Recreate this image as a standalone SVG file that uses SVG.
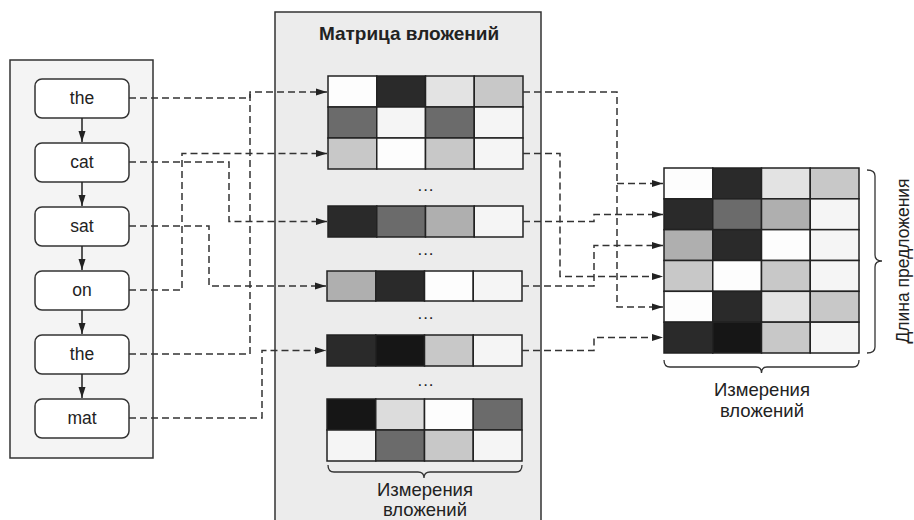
<svg xmlns="http://www.w3.org/2000/svg" width="914" height="520" viewBox="0 0 914 520">
  <defs>
    <marker id="arr" markerWidth="12" markerHeight="8" refX="11" refY="4" orient="auto" markerUnits="userSpaceOnUse">
      <path d="M0,0.5 L11,4 L0,7.5 Z" fill="#222"/>
    </marker>
    <style>
      text { font-family: "Liberation Sans", Arial, sans-serif; fill: #222; }
      .panel { stroke: #333; stroke-width: 1.5; }
      .tok rect { fill: #ffffff; stroke: #333; stroke-width: 1.5; }
      .tok text { font-size: 17.5px; text-anchor: middle; }
      .cell { stroke: #222; stroke-width: 1.5; }
      .link { fill: none; stroke: #333; stroke-width: 1.5; stroke-dasharray: 7 4; }
      .seq { fill: none; stroke: #222; stroke-width: 1.5; }
      .brace { fill: none; stroke: #333; stroke-width: 1.3; }
      .dots { font-size: 17px; text-anchor: middle; letter-spacing: 1px; }
      .lbl { font-size: 18.5px; text-anchor: middle; }
      .w { fill: #fdfdfd; } .w2 { fill: #f5f5f5; } .l1 { fill: #e3e3e3; } .l2 { fill: #dcdcdc; }
      .g1 { fill: #c8c8c8; } .g2 { fill: #afafaf; } .g3 { fill: #6b6b6b; }
      .d1 { fill: #2a2a2a; } .d2 { fill: #161616; }
    </style>
  </defs>

  <!-- panels -->
  <rect id="token-panel" class="panel" x="10" y="60" width="143" height="398" fill="#f4f4f4"/>
  <rect id="embedding-panel" class="panel" x="275" y="12" width="266" height="520" fill="#ececec"/>
  <text x="409" y="40" style="font-size:19px;font-weight:bold;text-anchor:middle">Матрица вложений</text>

  <!-- token sequence -->
  <g id="tok-the1" class="tok"><rect x="35" y="79" width="94" height="39" rx="7"/><text x="82" y="104">the</text></g>
  <g id="tok-cat" class="tok"><rect x="35" y="143" width="94" height="39" rx="7"/><text x="82" y="168">cat</text></g>
  <g id="tok-sat" class="tok"><rect x="35" y="207" width="94" height="39" rx="7"/><text x="82" y="232">sat</text></g>
  <g id="tok-on" class="tok"><rect x="35" y="271" width="94" height="39" rx="7"/><text x="82" y="296">on</text></g>
  <g id="tok-the2" class="tok"><rect x="35" y="335" width="94" height="39" rx="7"/><text x="82" y="360">the</text></g>
  <g id="tok-mat" class="tok"><rect x="35" y="399" width="94" height="39" rx="7"/><text x="82" y="424">mat</text></g>

  <g id="sequence-arrows">
    <line class="seq" x1="82" y1="118" x2="82" y2="142" marker-end="url(#arr)"/>
    <line class="seq" x1="82" y1="182" x2="82" y2="206" marker-end="url(#arr)"/>
    <line class="seq" x1="82" y1="246" x2="82" y2="270" marker-end="url(#arr)"/>
    <line class="seq" x1="82" y1="310" x2="82" y2="334" marker-end="url(#arr)"/>
    <line class="seq" x1="82" y1="374" x2="82" y2="398" marker-end="url(#arr)"/>
  </g>

  <!-- embedding matrix rows -->
  <g id="emb-block1">
    <rect class="cell w"  x="328" y="76" width="48.75" height="31"/>
    <rect class="cell d1" x="376.75" y="76" width="48.75" height="31"/>
    <rect class="cell l1" x="425.5" y="76" width="48.75" height="31"/>
    <rect class="cell g1" x="474.25" y="76" width="48.75" height="31"/>
    <rect class="cell g3" x="328" y="107" width="48.75" height="31"/>
    <rect class="cell w2" x="376.75" y="107" width="48.75" height="31"/>
    <rect class="cell g3" x="425.5" y="107" width="48.75" height="31"/>
    <rect class="cell w2" x="474.25" y="107" width="48.75" height="31"/>
    <rect class="cell g1" x="328" y="138" width="48.75" height="31"/>
    <rect class="cell w"  x="376.75" y="138" width="48.75" height="31"/>
    <rect class="cell g1" x="425.5" y="138" width="48.75" height="31"/>
    <rect class="cell w2" x="474.25" y="138" width="48.75" height="31"/>
  </g>
  <text class="dots" x="426" y="191">...</text>
  <g id="emb-block2">
    <rect class="cell d1" x="328" y="206" width="48.75" height="31"/>
    <rect class="cell g3" x="376.75" y="206" width="48.75" height="31"/>
    <rect class="cell g2" x="425.5" y="206" width="48.75" height="31"/>
    <rect class="cell w2" x="474.25" y="206" width="48.75" height="31"/>
  </g>
  <text class="dots" x="426" y="255">...</text>
  <g id="emb-block3">
    <rect class="cell g2" x="327" y="271" width="48.75" height="30"/>
    <rect class="cell d1" x="375.75" y="271" width="48.75" height="30"/>
    <rect class="cell w"  x="424.5" y="271" width="48.75" height="30"/>
    <rect class="cell w2" x="473.25" y="271" width="48.75" height="30"/>
  </g>
  <text class="dots" x="426" y="319">...</text>
  <g id="emb-block4">
    <rect class="cell d1" x="327" y="335" width="48.75" height="31"/>
    <rect class="cell d2" x="375.75" y="335" width="48.75" height="31"/>
    <rect class="cell g1" x="424.5" y="335" width="48.75" height="31"/>
    <rect class="cell w2" x="473.25" y="335" width="48.75" height="31"/>
  </g>
  <text class="dots" x="426" y="386">...</text>
  <g id="emb-block5">
    <rect class="cell d2" x="327" y="399" width="48.75" height="31"/>
    <rect class="cell l2" x="375.75" y="399" width="48.75" height="31"/>
    <rect class="cell w"  x="424.5" y="399" width="48.75" height="31"/>
    <rect class="cell g3" x="473.25" y="399" width="48.75" height="31"/>
    <rect class="cell w2" x="327" y="430" width="48.75" height="31"/>
    <rect class="cell g3" x="375.75" y="430" width="48.75" height="31"/>
    <rect class="cell g1" x="424.5" y="430" width="48.75" height="31"/>
    <rect class="cell w2" x="473.25" y="430" width="48.75" height="31"/>
  </g>
  <g id="emb-dim-label">
    <path class="brace" d="M328,465 Q328,472 334,472 L418,472 Q424,472 424,478 Q424,472 430,472 L516,472 Q522,472 522,465"/>
    <text class="lbl" x="425" y="496">Измерения</text>
    <text class="lbl" x="425" y="516">вложений</text>
  </g>

  <!-- sentence matrix -->
  <g id="sentence-matrix">
    <rect class="cell w"  x="664" y="168" width="48.75" height="30.83"/>
    <rect class="cell d1" x="712.75" y="168" width="48.75" height="30.83"/>
    <rect class="cell l1" x="761.5" y="168" width="48.75" height="30.83"/>
    <rect class="cell g1" x="810.25" y="168" width="48.75" height="30.83"/>
    <rect class="cell d1" x="664" y="198.83" width="48.75" height="30.83"/>
    <rect class="cell g3" x="712.75" y="198.83" width="48.75" height="30.83"/>
    <rect class="cell g2" x="761.5" y="198.83" width="48.75" height="30.83"/>
    <rect class="cell w2" x="810.25" y="198.83" width="48.75" height="30.83"/>
    <rect class="cell g2" x="664" y="229.67" width="48.75" height="30.83"/>
    <rect class="cell d1" x="712.75" y="229.67" width="48.75" height="30.83"/>
    <rect class="cell w"  x="761.5" y="229.67" width="48.75" height="30.83"/>
    <rect class="cell w2" x="810.25" y="229.67" width="48.75" height="30.83"/>
    <rect class="cell g1" x="664" y="260.5" width="48.75" height="30.83"/>
    <rect class="cell w"  x="712.75" y="260.5" width="48.75" height="30.83"/>
    <rect class="cell g1" x="761.5" y="260.5" width="48.75" height="30.83"/>
    <rect class="cell w2" x="810.25" y="260.5" width="48.75" height="30.83"/>
    <rect class="cell w"  x="664" y="291.33" width="48.75" height="30.83"/>
    <rect class="cell d1" x="712.75" y="291.33" width="48.75" height="30.83"/>
    <rect class="cell l1" x="761.5" y="291.33" width="48.75" height="30.83"/>
    <rect class="cell g1" x="810.25" y="291.33" width="48.75" height="30.83"/>
    <rect class="cell d1" x="664" y="322.17" width="48.75" height="30.83"/>
    <rect class="cell d2" x="712.75" y="322.17" width="48.75" height="30.83"/>
    <rect class="cell g1" x="761.5" y="322.17" width="48.75" height="30.83"/>
    <rect class="cell w2" x="810.25" y="322.17" width="48.75" height="30.83"/>
  </g>
  <g id="sentence-dim-label">
    <path class="brace" d="M664,360 Q664,367 670,367 L756,367 Q761.5,367 761.5,373 Q761.5,367 767,367 L853,367 Q859,367 859,360"/>
    <text class="lbl" x="762" y="396">Измерения</text>
    <text class="lbl" x="762" y="417">вложений</text>
  </g>
  <g id="sentence-len-label">
    <path class="brace" d="M867,170 Q875,170 875,176 L875,255 Q875,261 882,261 Q875,261 875,267 L875,347 Q875,353 867,353"/>
    <text transform="translate(909,261) rotate(-90)" style="font-size:17.5px;text-anchor:middle">Длина предложения</text>
  </g>

  <!-- lookup connectors -->
  <g id="connectors">
    <path class="link" d="M129,98 H250 V92 H327" marker-end="url(#arr)"/>
    <path class="link" d="M129,354 H250 V92"/>
    <path class="link" d="M129,162 H229 V221.5 H327" marker-end="url(#arr)"/>
    <path class="link" d="M129,290 H182 V153.5 H327" marker-end="url(#arr)"/>
    <path class="link" d="M129,226 H209 V286 H326" marker-end="url(#arr)"/>
    <path class="link" d="M129,418 H262 V350.5 H326" marker-end="url(#arr)"/>

    <path class="link" d="M523,92 H617 V307 H663" marker-end="url(#arr)"/>
    <path class="link" d="M617,183.5 H663" marker-end="url(#arr)"/>
    <path class="link" d="M523,153.5 H560 V276.5 H663" marker-end="url(#arr)"/>
    <path class="link" d="M523,221.5 H594 V214.5 H663" marker-end="url(#arr)"/>
    <path class="link" d="M522,286 H594 V245.5 H663" marker-end="url(#arr)"/>
    <path class="link" d="M522,350.5 H594 V337.5 H663" marker-end="url(#arr)"/>
  </g>
</svg>
